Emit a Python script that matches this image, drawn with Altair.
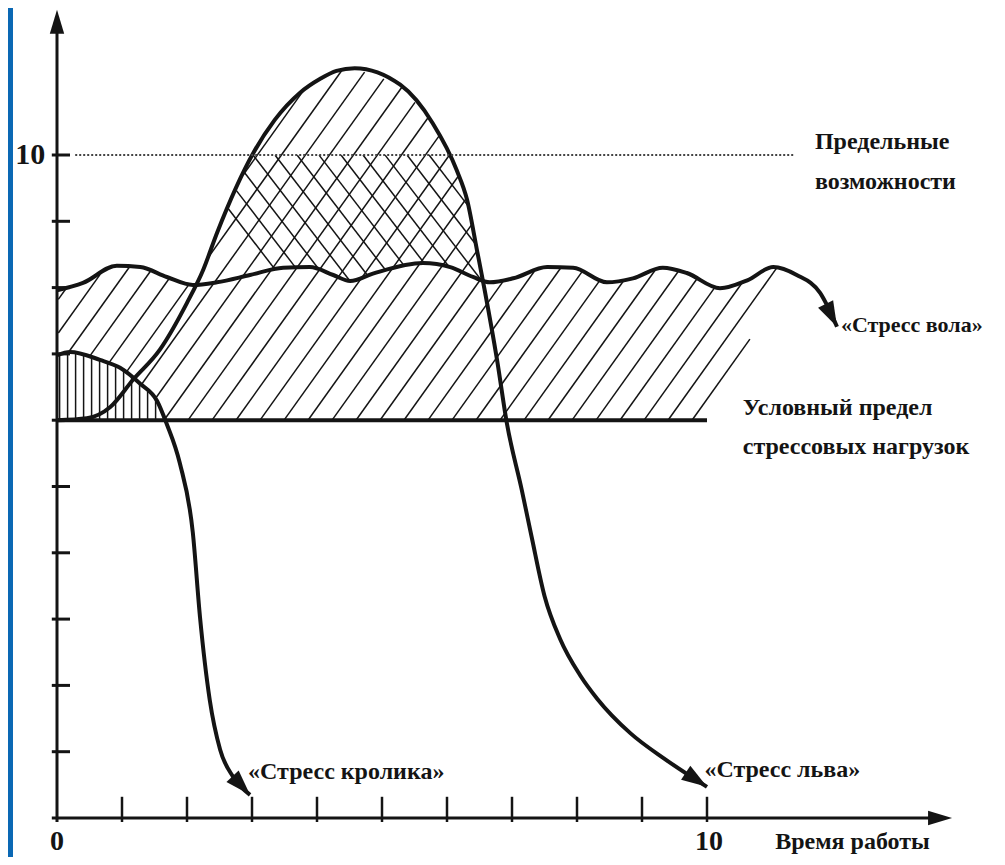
import math
import numpy as np
import pandas as pd
import altair as alt

# ---------------- data ----------------
# x = "Время работы" (0..10 labelled), y = stress level (0..10 labelled)
ox_x = [0.00, 0.40, 0.92, 1.28, 1.69, 2.09, 2.46, 2.97, 3.48, 3.89, 4.25, 4.51, 4.86,
        5.63, 6.05, 6.40, 6.66, 7.02, 7.54, 7.94, 8.46, 8.86, 9.32, 9.69, 10.20,
        10.62, 11.02, 11.38, 11.74, 12.00]
ox_y = [7.96, 8.07, 8.33, 8.31, 8.16, 8.04, 8.08, 8.19, 8.30, 8.31, 8.19, 8.10, 8.21,
        8.37, 8.31, 8.16, 8.08, 8.14, 8.31, 8.30, 8.08, 8.14, 8.30, 8.22, 7.99,
        8.11, 8.31, 8.19, 7.92, 7.41]

lion_x = [0.00, 0.46, 0.82, 1.17, 1.58, 2.00, 2.25, 2.46, 3.02, 3.35, 3.74, 4.05, 4.30,
          4.58, 5.28, 5.78, 6.15, 6.31, 6.46, 6.58, 6.77, 6.92, 7.15, 7.30, 7.50,
          7.74, 8.05, 8.31, 8.82, 9.38, 10.00]
lion_y = [6.00, 6.03, 6.20, 6.61, 7.06, 7.77, 8.27, 8.82, 10.03, 10.53, 10.94, 11.15, 11.27,
          11.31, 11.06, 10.48, 9.77, 9.32, 8.57, 7.96, 6.91, 5.96, 4.95, 4.25, 3.35,
          2.70, 2.15, 1.80, 1.28, 0.87, 0.47]

rabbit_x = [0.00, 0.20, 0.66, 0.97, 1.28, 1.54, 1.69, 1.89, 2.09, 2.20, 2.35, 2.51, 2.71, 2.97]
rabbit_y = [6.98, 7.03, 6.91, 6.79, 6.55, 6.29, 5.94, 5.35, 4.30, 3.03, 1.78, 1.03, 0.62, 0.35]

limit_level = 10          # "Предельные возможности"
stress_limit = 6          # "Условный предел стрессовых нагрузок"
stress_limit_end = 10
limit_line_x = [0.28, 11.35]
tick_values = list(range(1, 11))
x_axis_end = 13.77
y_axis_end = 12.19

labels_left = [
    ("Предельные", 11.66, 10.20),
    ("возможности", 11.66, 9.59),
    ("Условный предел", 10.55, 6.18),
    ("стрессовых нагрузок", 10.55, 5.60),
    ("«Стресс кролика»", 2.94, 0.69),
    ("«Стресс льва»", 9.96, 0.72),
    ("Время работы", 11.05, -0.36),
]
label_ox = [("«Стресс вола»", 12.06, 7.44)]
axis_labels_center = [("0", 0.0, -0.36), ("10", 10.03, -0.36)]
axis_labels_right = [("10", -0.18, 10.0)]

# ---------------- layout ----------------
W, H = 989, 849
SX, SY = 65.0, 66.3            # pixels per data unit
X0PX, Y0PX = 49.0, 810.0       # pixel position of the origin inside the view
XMIN, XMAX = -X0PX / SX, (W - X0PX) / SX
YMIN, YMAX = (Y0PX - H) / SY, Y0PX / SY
XS = alt.Scale(domain=[XMIN, XMAX], nice=False, zero=False)
YS = alt.Scale(domain=[YMIN, YMAX], nice=False, zero=False)
INK = "#141414"
FONT = "'Liberation Serif', 'DejaVu Serif', serif"


def X(f="x"):
    return alt.X(f"{f}:Q", scale=XS, axis=None)


def Y(f="y"):
    return alt.Y(f"{f}:Q", scale=YS, axis=None)


ox = lambda x: np.interp(x, ox_x, ox_y)
lion = lambda x: np.interp(x, lion_x, lion_y)
rabbit = lambda x: np.interp(x, rabbit_x, rabbit_y)


def x_right(y):
    return 10.0 + 0.54 * (y - stress_limit)


def runs(xs, ys, mask):
    out, start = [], None
    n = len(mask)
    for i in range(n):
        if mask[i] and start is None:
            start = i
        if start is not None and (not mask[i] or i == n - 1):
            end = i if mask[i] else i - 1
            if end > start:
                out.append((xs[start], ys[start], xs[end], ys[end]))
            start = None
    return out


def hatch(slope_px, spacing_px, y_ref, c_lo, c_hi, inside):
    m = slope_px * SX / SY
    segs = []
    c = c_lo
    xs = np.arange(-0.5, 12.5, 0.004)
    while c <= c_hi:
        ys = y_ref + m * (xs - c)
        segs += runs(xs, ys, inside(xs, ys))
        c += spacing_px / SX
    return segs


def in_slash(x, y):
    lower = np.maximum(stress_limit, rabbit(x))
    upper = np.maximum(ox(x), lion(x))
    return (x >= 0.02) & (x <= x_right(y)) & (y >= lower) & (y <= upper)


def in_back(x, y):
    lo = ox(x)
    hi = np.minimum(lion(x), limit_level)
    return (lion(x) > lo) & (y >= lo) & (y <= hi)


slash = hatch(1.4, 24, stress_limit, -5.0, 11.5, in_slash)
back = hatch(-1.3, 22, limit_level, 2.0, 10.0, in_back)
vert = []
xv = 0.04
while rabbit(xv) > stress_limit:
    vert.append((xv, stress_limit, xv, float(rabbit(xv))))
    xv += 8.0 / SX

hatch_df = pd.DataFrame(slash + back + vert, columns=["x", "y", "x2", "y2"])

# ---------------- layers ----------------
strip = alt.Chart(pd.DataFrame({"x": [XMIN], "x2": [XMIN + 5 / SX], "y": [YMIN], "y2": [YMAX]})).mark_rect(
    color="#0A68B4").encode(x=X(), x2="x2:Q", y=Y(), y2="y2:Q")

hatch_layer = alt.Chart(hatch_df).mark_rule(color=INK, strokeWidth=1.5).encode(
    x=X(), y=Y(), x2="x2:Q", y2="y2:Q")

limit6 = alt.Chart(pd.DataFrame({"x": [0], "x2": [stress_limit_end], "y": [stress_limit]})).mark_rule(
    color=INK, strokeWidth=4).encode(x=X(), x2="x2:Q", y=Y())


def curve(xs, ys):
    return alt.Chart(pd.DataFrame({"x": xs, "y": ys})).mark_line(
        color=INK, strokeWidth=4, interpolate="monotone").encode(x=X(), y=Y())


def heading(xs, ys):
    dx = (xs[-1] - xs[-2]) * SX
    dy = -(ys[-1] - ys[-2]) * SY
    return math.degrees(math.atan2(dx, -dy)) % 360


arrow_df = pd.DataFrame({
    "x": [ox_x[-1], lion_x[-1], rabbit_x[-1]],
    "y": [ox_y[-1], lion_y[-1], rabbit_y[-1]],
    "angle": [heading(ox_x, ox_y), heading(lion_x, lion_y), heading(rabbit_x, rabbit_y)],
})
HEAD = "M0,0 L0.33,1 L-0.33,1 Z"
curve_arrows = alt.Chart(arrow_df).mark_point(
    shape=HEAD, filled=True, size=2600, color=INK, opacity=1, strokeWidth=0).encode(
    x=X(), y=Y(), angle=alt.Angle("angle:Q", scale=None))

axis_df = pd.DataFrame({"x": [0, -0.08], "x2": [0, x_axis_end - 0.2], "y": [-0.06, 0], "y2": [y_axis_end - 0.2, 0]})
axes = alt.Chart(axis_df).mark_rule(color=INK, strokeWidth=3).encode(x=X(), x2="x2:Q", y=Y(), y2="y2:Q")
axis_arrow_df = pd.DataFrame({"x": [0, x_axis_end], "y": [y_axis_end, 0], "angle": [0, 90]})
axis_arrows = alt.Chart(axis_arrow_df).mark_point(
    shape="M0,0 L0.3,1 L-0.3,1 Z", filled=True, size=2300, color=INK, opacity=1, strokeWidth=0).encode(
    x=X(), y=Y(), angle=alt.Angle("angle:Q", scale=None))

yt = pd.DataFrame({"x": [-0.08] * len(tick_values), "x2": [0.2] * len(tick_values), "y": tick_values})
xt = pd.DataFrame({"x": tick_values, "y": [-0.06] * len(tick_values), "y2": [0.32] * len(tick_values)})
yticks = alt.Chart(yt).mark_rule(color=INK, strokeWidth=3).encode(x=X(), x2="x2:Q", y=Y())
xticks = alt.Chart(xt).mark_rule(color=INK, strokeWidth=2.5).encode(x=X(), y=Y(), y2="y2:Q")

dotted = alt.Chart(pd.DataFrame({"x": [limit_line_x[0]], "x2": [limit_line_x[1]], "y": [limit_level]})).mark_rule(
    color="#444444", strokeWidth=2, strokeDash=[2, 2]).encode(x=X(), x2="x2:Q", y=Y())


def texts(rows, align, size):
    df = pd.DataFrame(rows, columns=["t", "x", "y"])
    return alt.Chart(df).mark_text(align=align, baseline="middle", font=FONT, fontWeight="bold",
                                   fontSize=size, color=INK).encode(x=X(), y=Y(), text="t:N")


chart = alt.layer(
    strip, hatch_layer, limit6,
    curve(ox_x, ox_y), curve(lion_x, lion_y), curve(rabbit_x, rabbit_y), curve_arrows,
    axes, axis_arrows, yticks, xticks, dotted,
    texts(labels_left, "left", 24),
    texts(label_ox, "left", 22),
    texts(axis_labels_center, "center", 28),
    texts(axis_labels_right, "right", 30),
).properties(
    width=W, height=H, padding=0, autosize=alt.AutoSizeParams(type="none"), background="white"
).configure_view(strokeWidth=0)

chart.save("out.html", embed_options={"renderer": "svg", "actions": False})
